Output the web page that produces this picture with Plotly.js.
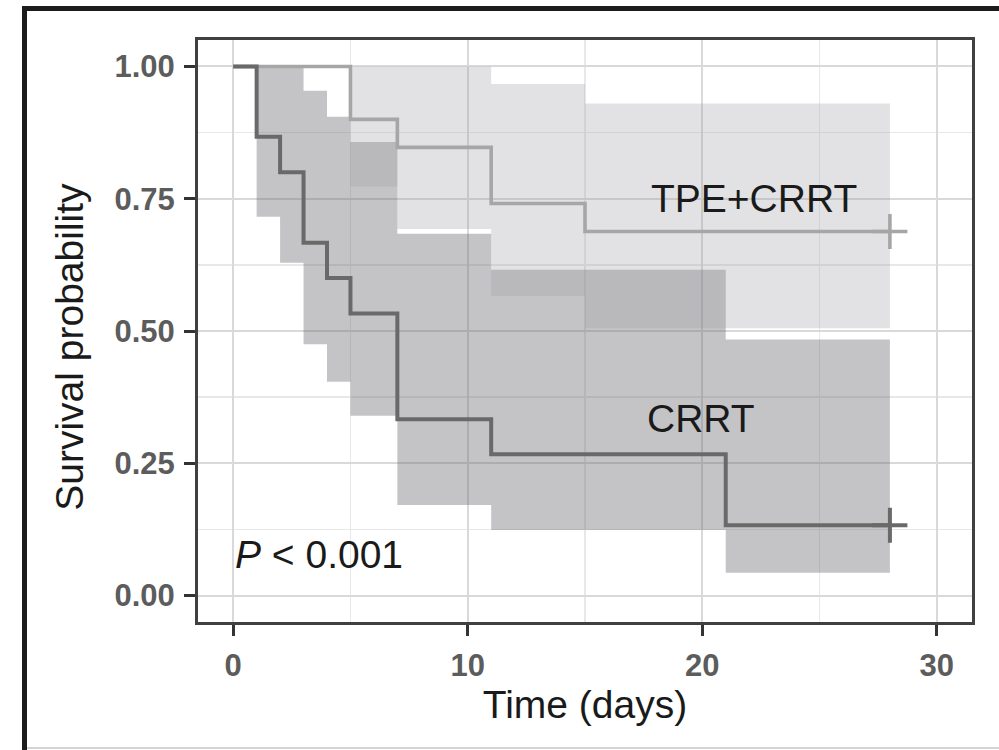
<!DOCTYPE html>
<html>
<head>
<meta charset="utf-8">
<script src="https://cdn.plot.ly/plotly-3.0.1.min.js"></script>
<style>
  html, body { margin: 0; padding: 0; background: #ffffff; overflow: hidden; }
  #wrap { position: relative; width: 999px; height: 750px; }
  #chart { position: absolute; left: 0; top: 0; width: 999px; height: 750px; }
  #frameTop { position: absolute; left: 22px; top: 6px; width: 977px; height: 5px; background: #1c1c1c; pointer-events: none; }
  #frameLeft { position: absolute; left: 22px; top: 6px; width: 5px; height: 744px; background: #1c1c1c; pointer-events: none; }
  #frameBottom { position: absolute; left: 27px; top: 747px; width: 972px; height: 2px; background: #d4d4d4; pointer-events: none; }
</style>
</head>
<body>
<div id="wrap">
  <div id="chart"></div>
  <div id="frameTop"></div>
  <div id="frameLeft"></div>
  <div id="frameBottom"></div>
</div>
<script>
// ---- Data ----
const groupNames = ["CRRT", "TPE+CRRT"];

const crrtTime  = [0, 1, 2, 3, 4, 5, 7, 11, 21, 28];
const crrtSurv  = [1, 0.867, 0.8, 0.667, 0.6, 0.533, 0.333, 0.267, 0.133, 0.133];
const crrtUpper = [1, 1, 1, 0.954, 0.905, 0.857, 0.684, 0.616, 0.484, 0.484];
const crrtLower = [1, 0.716, 0.629, 0.475, 0.404, 0.34, 0.171, 0.124, 0.043, 0.043];

const tpeTime  = [0, 5, 7, 11, 15, 28];
const tpeSurv  = [1, 0.9, 0.847, 0.741, 0.688, 0.688];
const tpeUpper = [1, 1, 1, 0.967, 0.93, 0.93];
const tpeLower = [1, 0.773, 0.693, 0.566, 0.505, 0.505];

const crrtCensorTime = [28];
const crrtCensorSurv = [0.133];
const tpeCensorTime = [28];
const tpeCensorSurv = [0.688];

const xTicks = [0, 10, 20, 30];
const yTicks = [0, 0.25, 0.5, 0.75, 1];
const yTickLabels = ["0.00", "0.25", "0.50", "0.75", "1.00"];

const xTitle = "Time (days)";
const yTitle = "Survival probability";
const pLabel = "<i>P</i> &lt; 0.001";

// ---- Styles ----
const FONT = "Liberation Sans, Arial, Helvetica, sans-serif";
const crrtColor = "#696969";
const tpeColor = "#a6a6a6";
const crrtFill = "rgba(108,108,112,0.40)";
const tpeFill = "rgba(160,160,164,0.30)";

const traces = [
  // CRRT confidence band
  { x: crrtTime, y: crrtLower, type: "scatter", mode: "lines", line: { shape: "hv", width: 0 }, hoverinfo: "skip", showlegend: false },
  { x: crrtTime, y: crrtUpper, type: "scatter", mode: "lines", line: { shape: "hv", width: 0 }, fill: "tonexty", fillcolor: crrtFill, hoverinfo: "skip", showlegend: false },
  // TPE+CRRT confidence band
  { x: tpeTime, y: tpeLower, type: "scatter", mode: "lines", line: { shape: "hv", width: 0 }, hoverinfo: "skip", showlegend: false },
  { x: tpeTime, y: tpeUpper, type: "scatter", mode: "lines", line: { shape: "hv", width: 0 }, fill: "tonexty", fillcolor: tpeFill, hoverinfo: "skip", showlegend: false },
  // Survival curves
  { x: tpeTime, y: tpeSurv, type: "scatter", mode: "lines", name: groupNames[1], line: { shape: "hv", width: 3.6, color: tpeColor }, showlegend: false },
  { x: crrtTime, y: crrtSurv, type: "scatter", mode: "lines", name: groupNames[0], line: { shape: "hv", width: 4, color: crrtColor }, showlegend: false },
  // Censor marks
  { x: tpeCensorTime, y: tpeCensorSurv, type: "scatter", mode: "markers", marker: { symbol: "cross-thin", size: 25, line: { width: 3.6, color: tpeColor } }, showlegend: false, hoverinfo: "skip" },
  { x: crrtCensorTime, y: crrtCensorSurv, type: "scatter", mode: "markers", marker: { symbol: "cross-thin", size: 25, line: { width: 4, color: crrtColor } }, showlegend: false, hoverinfo: "skip" }
];

const axisCommon = {
  showline: true,
  linecolor: "#404040",
  linewidth: 3,
  mirror: true,
  ticks: "outside",
  ticklen: 11,
  tickwidth: 3,
  tickcolor: "#333333",
  showgrid: true,
  gridcolor: "#d9d9d9",
  gridwidth: 2,
  zeroline: false,
  tickfont: { family: FONT, size: 31, color: "#5c5c5c", weight: "bold" }
};

const layout = {
  width: 999,
  height: 750,
  margin: { l: 198, r: 27, t: 40, b: 128, pad: 0 },
  paper_bgcolor: "#ffffff",
  plot_bgcolor: "#ffffff",
  showlegend: false,
  xaxis: Object.assign({}, axisCommon, {
    range: [-1.5, 31.5],
    tickvals: xTicks,
    ticktext: xTicks.map(String),
    ticklabelstandoff: 3,
    minor: { tickvals: [5, 15, 25], showgrid: true, gridcolor: "#e8e8e8", gridwidth: 1.5, ticks: "" },
    title: { text: xTitle, font: { family: FONT, size: 39, color: "#1a1a1a" }, standoff: 8 }
  }),
  yaxis: Object.assign({}, axisCommon, {
    range: [-0.05, 1.05],
    tickvals: yTicks,
    ticktext: yTickLabels,
    ticklabelstandoff: 3,
    minor: { tickvals: [0.125, 0.375, 0.625, 0.875], showgrid: true, gridcolor: "#e8e8e8", gridwidth: 1.5, ticks: "" },
    title: { text: "" }
  }),
  annotations: [
    { x: -0.167, y: 0.4725, xref: "paper", yref: "paper", text: yTitle, textangle: -90, showarrow: false, xanchor: "center", yanchor: "middle", font: { family: FONT, size: 39, color: "#1a1a1a" } },
    { x: 22.2, y: 0.75, xref: "x", yref: "y", text: groupNames[1], showarrow: false, xanchor: "center", yanchor: "middle", font: { family: FONT, size: 39, color: "#1a1a1a" } },
    { x: 19.95, y: 0.334, xref: "x", yref: "y", text: groupNames[0], showarrow: false, xanchor: "center", yanchor: "middle", font: { family: FONT, size: 39, color: "#1a1a1a" } },
    { x: 0, y: 0.078, xref: "x", yref: "y", text: pLabel, showarrow: false, xanchor: "left", yanchor: "middle", font: { family: FONT, size: 39, color: "#1a1a1a" } }
  ]
};

Plotly.newPlot("chart", traces, layout, { staticPlot: true, displayModeBar: false });
</script>
</body>
</html>
